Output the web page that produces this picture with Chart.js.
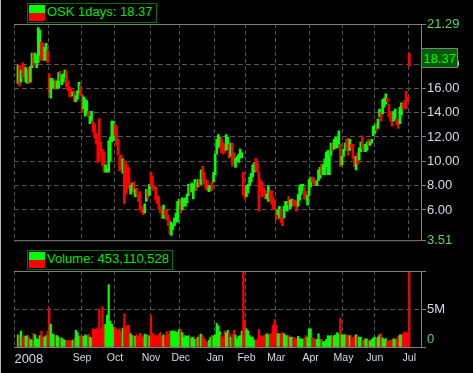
<!DOCTYPE html>
<html>
<head>
<meta charset="utf-8">
<script src="https://cdn.jsdelivr.net/npm/chart.js@4.4.0/dist/chart.umd.min.js"></script>
<style>
  html, body { margin: 0; padding: 0; background: #000; }
  #wrap { position: relative; width: 473px; height: 373px; background: #000; overflow: hidden; }
  #price { position: absolute; left: 0; top: 0; }
  #vol { position: absolute; left: 0; top: 249px; }
  #edge { position: absolute; left: 0; top: 0; width: 1px; height: 373px; background: #b8b8b8; }
  .leg { position: absolute; border: 1px solid #0b6e0b; background: #000; height: 18px; line-height: 18px;
         padding: 0 3px 0 19px; font: 13px "Liberation Sans", Arial, sans-serif; color: #00e800; white-space: nowrap; }
  .leg .up { position: absolute; left: 1px; top: 1px; width: 16px; height: 8px; background: #00ff00; }
  .leg .dn { position: absolute; left: 1px; top: 9px; width: 16px; height: 8px; background: #ff0000; }
</style>
</head>
<body>
<div id="wrap">
  <canvas id="price" width="473" height="249"></canvas>
  <canvas id="vol" width="473" height="124"></canvas>
  <div id="edge"></div>
  <div class="leg" id="priceLeg" style="left:27px;top:3px"><span class="up"></span><span class="dn"></span><span id="priceText"></span></div>
  <div class="leg" id="volLeg" style="left:27px;top:250px"><span class="up"></span><span class="dn"></span><span id="volText"></span></div>
</div>
<script>
// months on the time axis (Jul 2008 .. Jul 2009) and trading days in each
const months = ['Jul', 'Aug', 'Sep', 'Oct', 'Nov', 'Dec', 'Jan', 'Feb', 'Mar', 'Apr', 'May', 'Jun', 'Jul'];
const monthTickText = ['2008', '', 'Sep', 'Oct', 'Nov', 'Dec', 'Jan', 'Feb', 'Mar', 'Apr', 'May', 'Jun', 'Jul'];
const tradingDays = [22, 21, 21, 23, 19, 22, 20, 19, 22, 21, 20, 22, 1];
const firstLabelDay = 9;   // the year label sits a little inside the first month
const padDays = 7;         // empty slots after the last bar

// daily low / high, one line per month
const lows = [
  null, null, 16.4, 16.2, 16.5, 16.9, 16.9, 16.5, 16.4, 16.4, 16.5, 17.7, 17.9, 18.1, 17.7, 18.1, 18.7, 18.3, 18.3, 18.3, 18.3, 18.1,
  15.6, 15.2, 16.0, 16.0, 15.9, 16.0, 16.0, 16.6, 16.3, 16.5, 16.9, 16.1, 15.8, 15.3, 15.3, 15.4, 14.9, 14.9, 15.1, 15.6, 15.4,
  14.0, 14.3, 13.7, 13.9, 13.7, 13.1, 13.3, 12.4, 11.9, 11.4, 9.9, 10.0, 10.6, 9.6, 9.1, 9.1, 9.1, 9.1, 10.0, 11.6, 11.7,
  12.1, 11.3, 10.5, 9.2, 9.4, 9.0, 6.5, 7.3, 7.7, 7.9, 7.3, 7.5, 7.3, 7.1, 7.3, 6.7, 6.0, 5.8, 5.6, 5.75, 6.7, 7.0, 7.2,
  8.0, 7.6, 7.7, 6.8, 6.5, 6.1, 5.75, 5.3, 5.3, 5.6, 5.2, 4.7, 4.0, 3.9, 4.4, 4.7, 5.0, 5.0, 6.3,
  5.75, 6.0, 6.3, 6.3, 6.6, 7.2, 7.4, 7.5, 6.9, 7.6, 7.6, 7.9, 8.0, 8.1, 8.5, 8.1, 7.7, 7.6, 7.5, 7.6, 7.6, 8.3,
  8.9, 10.6, 11.1, 11.3, 10.7, 10.6, 10.7, 10.9, 11.0, 10.25, 10.4, 9.6, 9.8, 9.5, 10.0, 9.9, 10.25, 10.3, 7.2, 6.9,
  7.1, 7.4, 8.0, 8.3, 8.7, 9.1, 9.3, 9.1, 5.9, 7.5, 7.1, 7.3, 6.9, 6.9, 6.7, 6.9, 6.5, 6.1, 6.0,
  5.2, 5.6, 5.3, 4.95, 4.7, 5.35, 6.0, 5.9, 6.4, 6.1, 6.3, 6.4, 6.3, 5.9, 6.3, 6.8, 7.3, 7.6, 6.9, 6.8, 6.4, 7.2,
  7.9, 8.3, 8.1, 8.0, 8.0, 8.4, 8.6, 8.9, 8.9, 8.9, 9.55, 8.9, 8.9, 10.5, 10.9, 11.0, 11.1, 11.1, 11.4, 9.55, 9.7,
  10.4, 10.9, 11.0, 10.5, 10.9, 11.1, 10.2, 9.55, 9.3, 9.8, 10.1, 10.8, 11.0, 10.8, 10.8, 10.9, 11.3, 11.3, 11.5, 12.1,
  12.3, 12.5, 12.7, 13.65, 13.3, 13.9, 14.45, 14.7, 14.9, 13.65, 13.3, 12.9, 13.3, 13.5, 13.0, 12.7, 13.1, 13.8, 14.3, 14.4, 14.3, 14.9,
  17.8
];
const highs = [
  null, null, 17.9, 17.9, 17.5, 18.1, 17.9, 17.7, 17.5, 17.7, 17.8, 18.9, 18.9, 18.9, 18.7, 21.0, 20.8, 19.8, 19.7, 19.4, 19.7, 19.1,
  17.2, 16.8, 16.8, 16.6, 16.7, 16.6, 17.3, 17.4, 17.1, 17.2, 17.5, 17.4, 16.6, 16.1, 16.0, 15.7, 15.8, 15.4, 15.8, 16.5, 16.2,
  15.5, 15.3, 15.1, 15.0, 14.1, 13.7, 14.1, 13.3, 13.1, 12.3, 12.0, 13.5, 11.6, 11.0, 10.8, 9.7, 9.4, 11.7, 12.0, 13.3, 13.3,
  13.1, 12.9, 11.8, 10.4, 10.5, 10.2, 10.1, 9.9, 9.6, 9.4, 8.0, 8.2, 8.3, 7.7, 7.8, 7.3, 7.5, 6.3, 6.1, 6.5, 7.7, 7.7, 8.1,
  9.1, 8.8, 8.0, 7.9, 7.2, 7.1, 6.3, 6.1, 6.4, 6.0, 6.0, 5.6, 5.1, 5.0, 4.8, 5.35, 5.75, 6.7, 6.9,
  6.9, 7.0, 6.9, 7.0, 7.3, 8.1, 8.0, 8.2, 8.1, 8.5, 8.2, 8.5, 8.5, 9.3, 9.6, 9.1, 8.5, 8.4, 8.0, 8.0, 8.3, 9.1,
  10.6, 11.8, 12.2, 12.0, 11.9, 11.5, 11.4, 12.2, 12.0, 11.4, 11.5, 11.5, 10.7, 10.25, 10.4, 10.6, 11.0, 10.7, 9.1, 7.6,
  8.0, 8.1, 8.7, 9.0, 9.7, 9.9, 10.25, 9.9, 9.1, 8.5, 8.3, 7.8, 7.6, 7.3, 8.0, 7.5, 7.6, 7.1, 6.8,
  6.1, 6.0, 6.3, 6.0, 5.35, 6.3, 6.7, 6.7, 7.1, 6.8, 6.9, 6.8, 6.8, 6.7, 7.3, 8.0, 8.1, 8.1, 7.9, 7.5, 7.2, 8.5,
  8.7, 8.7, 8.6, 8.4, 8.4, 9.3, 9.5, 9.8, 9.7, 10.2, 10.75, 10.9, 10.5, 11.5, 11.5, 11.8, 12.0, 11.8, 12.5, 11.4, 10.4,
  11.0, 11.5, 11.8, 11.9, 11.8, 11.4, 11.4, 10.4, 10.4, 10.7, 11.1, 11.6, 12.1, 11.4, 11.4, 11.6, 11.8, 11.6, 11.8, 12.9,
  13.0, 13.1, 13.5, 14.3, 14.0, 15.1, 15.2, 15.55, 15.2, 14.7, 14.1, 14.05, 14.1, 14.3, 13.5, 13.4, 14.45, 14.8, 14.7, 15.0, 15.75, 15.3,
  18.9
];
// u = closed up (green), d = closed down (red); one string per month, grouped by five days
const dirsByMonth = [
  '--udu dduud uuduu uuddu ud',
  'duuud uuduu udddd uduuu d',
  'duuud uuddd ddddd uuuuu u',
  'ddddd udddd uudud ddddu udu',
  'ddddd dddud ddduu uuuu',
  'duuuu uduuu dudud ddduu du',
  'uuuud dduud udduu uuudd',
  'uuuuu udddd ddduu dddd',
  'duudd uuudu udddu uuudd uu',
  'udddu uuduu uuuud uuuud u',
  'uuddu dddud uuddu uduuu',
  'uduud uuudd dduud duudd dd',
  'd'
];
// daily volume, millions of shares
const vols = [
  null, null, 1.6, 1.6, 2.1, 1.2, 1.5, 1.4, 1.5, 1.3, 1.0, 0.9, 1.8, 1.6, 1.1, 1.0, 1.5, 2.1, 1.4, 1.3, 1.5, 2.1,
  5.1, 3.0, 1.75, 1.6, 1.5, 1.5, 1.3, 1.1, 1.2, 1.0, 0.9, 0.7, 0.9, 0.9, 0.8, 0.9, 1.1, 2.2, 1.9, 1.45, 1.45,
  1.5, 1.4, 1.6, 1.5, 1.7, 1.3, 1.2, 2.4, 2.3, 2.4, 2.4, 5.0, 2.4, 5.3, 2.9, 3.0, 4.2, 8.2, 3.4, 3.0, 2.6,
  2.6, 2.4, 2.2, 2.4, 1.9, 2.5, 4.4, 2.6, 2.85, 2.85, 1.75, 1.5, 1.5, 1.4, 1.6, 1.5, 1.8, 1.5, 1.3, 1.7, 1.6, 1.3, 1.5,
  4.1, 1.8, 1.6, 1.5, 1.3, 1.7, 1.9, 1.4, 1.6, 1.3, 2.0, 1.7, 2.1, 2.1, 2.1, 2.1, 2.0, 1.9, 2.3,
  2.3, 1.9, 1.3, 1.5, 1.4, 1.5, 1.4, 1.2, 1.3, 1.0, 1.1, 1.3, 1.6, 1.7, 1.5, 1.1, 0.8, 0.6, 0.9, 1.3, 1.5, 1.5,
  1.6, 3.1, 2.8, 2.0, 1.5, 1.2, 2.1, 1.9, 2.2, 1.8, 1.3, 1.6, 2.2, 1.6, 1.1, 1.4, 1.5, 2.1, 12, 3.5,
  2.4, 2.1, 1.5, 1.3, 1.3, 0.9, 1.0, 0.9, 2.3, 1.5, 1.4, 1.5, 1.6, 1.75, 1.6, 1.75, 1.6, 2.9, 3.6,
  2.9, 1.75, 1.75, 1.75, 1.9, 1.75, 1.5, 1.5, 1.5, 1.3, 1.3, 1.2, 1.2, 1.1, 1.4, 1.1, 1.1, 1.0, 1.2, 1.5, 1.3, 2.4,
  2.4, 1.3, 1.1, 1.0, 1.0, 1.75, 1.0, 1.0, 0.7, 0.7, 1.0, 1.5, 1.4, 1.5, 1.3, 1.5, 1.6, 1.9, 1.7, 3.8, 1.6,
  1.6, 1.6, 1.6, 1.5, 1.5, 1.3, 1.2, 1.5, 1.6, 1.4, 1.3, 1.3, 0.9, 0.9, 1.1, 1.0, 0.9, 0.8, 1.0, 1.2,
  1.3, 1.2, 1.3, 1.6, 1.75, 1.2, 1.0, 1.1, 0.8, 0.8, 0.9, 0.9, 1.1, 1.0, 1.1, 1.4, 1.6, 1.6, 1.75, 2.0, 1.9, 1.8,
  12
];

const priceMin = 3.51, priceMax = 21.29;
const priceTicks = [3.51, 5, 6, 7, 8, 9, 10, 11, 12, 13, 14, 15, 16, 17, 18, 19, 21.29];
const priceLabels = [6, 8, 10, 12, 14, 16, 18];
const volTicks = [0, 5, 10];
const volLabels = { 0: '0', 5: '5M' };
const lastClose = 18.37;
const volumeTotal = '453,110,528';

const UP = '#00ff00', DOWN = '#ff0000';
const GRID = '#555555', FRAME = '#808080', TEXT = '#d0dcea', MAXMIN = '#5cd65c';
const FONT = '"Liberation Sans", Arial, sans-serif';

// category slots, month starts and month labels
const labels = [];
const monthStart = new Set();
const monthLabelAt = {};
months.forEach((m, i) => {
  const start = labels.length;
  monthStart.add(start);
  monthLabelAt[i === 0 ? start + firstLabelDay : start] = monthTickText[i];
  for (let d = 0; d < tradingDays[i]; d++) labels.push(m + ' ' + (i < 6 ? 2008 : 2009) + ' #' + (d + 1));
});
for (let p = 0; p < padDays; p++) labels.push('pad' + p);

const dirs = dirsByMonth.join('').replace(/ /g, '').split('');
const colors = dirs.map(d => d === 'u' ? UP : DOWN);

document.getElementById('priceText').textContent = 'OSK 1days: ' + lastClose.toFixed(2);
document.getElementById('volText').textContent = 'Volume: ' + volumeTotal;

const frame = {
  id: 'frame',
  afterDraw(chart) {
    const { ctx, chartArea: a } = chart;
    ctx.save();
    ctx.strokeStyle = FRAME;
    ctx.lineWidth = 1;
    ctx.beginPath();
    ctx.moveTo(a.left, a.top + 0.5); ctx.lineTo(a.right, a.top + 0.5);
    ctx.moveTo(a.left, a.bottom + 0.5); ctx.lineTo(a.right, a.bottom + 0.5);
    ctx.stroke();
    ctx.restore();
  }
};

const lastBox = {
  id: 'lastBox',
  afterDraw(chart) {
    const { ctx } = chart;
    const y = Math.round(chart.scales.y.getPixelForValue(lastClose)) - 2;
    const x = chart.chartArea.right;
    ctx.save();
    ctx.fillStyle = '#005c00';
    ctx.fillRect(x + 1, y - 9, 35, 19);
    ctx.strokeStyle = FRAME;
    ctx.strokeRect(x + 0.5, y - 9.5, 36, 19);
    ctx.fillStyle = '#00ff00';
    ctx.font = '13px ' + FONT;
    ctx.textBaseline = 'middle';
    ctx.fillText(lastClose.toFixed(2), x + 2.5, y + 1);
    ctx.restore();
  }
};

function xAxis(showLabels) {
  return {
    type: 'category',
    offset: true,
    grid: {
      offset: true,
      drawTicks: false,
      lineWidth: 1,
      color: ctx => monthStart.has(ctx.index) ? GRID : 'rgba(0,0,0,0)'
    },
    border: { display: showLabels, color: FRAME, dash: [4, 3] },
    ticks: {
      display: showLabels,
      autoSkip: false,
      maxRotation: 0,
      minRotation: 0,
      padding: 5,
      color: TEXT,
      font: ctx => ({ family: FONT, size: ctx.index === firstLabelDay ? 13 : 10.5 }),
      callback: (v, i) => monthLabelAt[i] || ''
    },
    afterFit: s => { s.height = showLabels ? 26 : 0; }
  };
}

new Chart(document.getElementById('price'), {
  type: 'bar',
  data: {
    labels: labels,
    datasets: [{
      data: lows.map((l, i) => l == null ? null : [l, highs[i]]),
      backgroundColor: colors,
      barThickness: 2,
      borderWidth: 0,
      clip: 0
    }]
  },
  options: {
    responsive: false,
    animation: false,
    devicePixelRatio: 1,
    layout: { padding: { left: 14, top: 24, right: 0, bottom: 1 } },
    plugins: { legend: { display: false }, tooltip: { enabled: false } },
    scales: {
      x: xAxis(false),
      y: {
        position: 'right',
        min: priceMin,
        max: priceMax,
        afterBuildTicks: s => { s.ticks = priceTicks.map(v => ({ value: v })); },
        afterFit: s => { s.width = 52; },
        grid: {
          tickLength: 5,
          tickColor: FRAME,
          color: ctx => ctx.tick && priceLabels.includes(ctx.tick.value) ? GRID : 'rgba(0,0,0,0)'
        },
        border: { color: FRAME, dash: [5, 3] },
        ticks: {
          padding: 1,
          font: { family: FONT, size: 13 },
          color: ctx => ctx.tick && (ctx.tick.value === priceMin || ctx.tick.value === priceMax) ? MAXMIN : TEXT,
          callback: v => (v === priceMin || v === priceMax || priceLabels.includes(v)) ? v.toFixed(2) : ''
        }
      }
    }
  },
  plugins: [frame, lastBox]
});

new Chart(document.getElementById('vol'), {
  type: 'bar',
  data: {
    labels: labels,
    datasets: [{
      data: vols,
      backgroundColor: colors,
      barPercentage: 1,
      categoryPercentage: 1,
      borderWidth: 0,
      clip: 0
    }]
  },
  options: {
    responsive: false,
    animation: false,
    devicePixelRatio: 1,
    layout: { padding: { left: 14, top: 22, right: 0, bottom: 0 } },
    plugins: { legend: { display: false }, tooltip: { enabled: false } },
    scales: {
      x: xAxis(true),
      y: {
        position: 'right',
        min: 0,
        max: 10,
        afterBuildTicks: s => { s.ticks = volTicks.map(v => ({ value: v })); },
        afterFit: s => { s.width = 52; },
        grid: {
          tickLength: 5,
          tickColor: FRAME,
          color: ctx => ctx.tick && ctx.tick.value === 5 ? GRID : 'rgba(0,0,0,0)'
        },
        border: { color: FRAME, dash: [5, 3] },
        ticks: {
          padding: 1,
          font: { family: FONT, size: 13 },
          color: ctx => ctx.tick && ctx.tick.value === 0 ? MAXMIN : TEXT,
          callback: v => v === 0 ? [volLabels[0], ''] : (volLabels[v] || '')
        }
      }
    }
  },
  plugins: [frame]
});
</script>
</body>
</html>
